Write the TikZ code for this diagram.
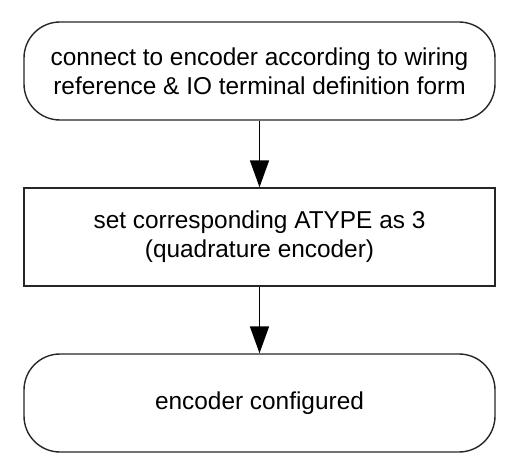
\documentclass[tikz,border=0pt]{standalone}
\usepackage{fontspec}
\setmainfont{Liberation Sans}
\usetikzlibrary{arrows.meta}
\begin{document}
\begin{tikzpicture}[x=1pt,y=-1pt,
  box/.style={draw=black!85, line width=1.4pt, minimum width=471pt, minimum height=98pt, align=center, inner sep=0pt, font=\fontsize{24.4}{29}\selectfont},
  roundbox/.style={box, rounded corners=36pt},
  flow/.style={line width=1.8pt, -{Triangle[length=27pt,width=19pt]}}]
\useasboundingbox (0,0) rectangle (530,473);
\node[roundbox] (a) at (259.5,71) {connect to encoder according to wiring\\reference \& IO terminal definition form};
\node[box] (b) at (259.5,237) {set corresponding ATYPE as 3\\(quadrature encoder)};
\node[roundbox] (c) at (259.5,403) {encoder configured};
\draw[flow] (a) -- (b);
\draw[flow] (b) -- (c);
\end{tikzpicture}
\end{document}
